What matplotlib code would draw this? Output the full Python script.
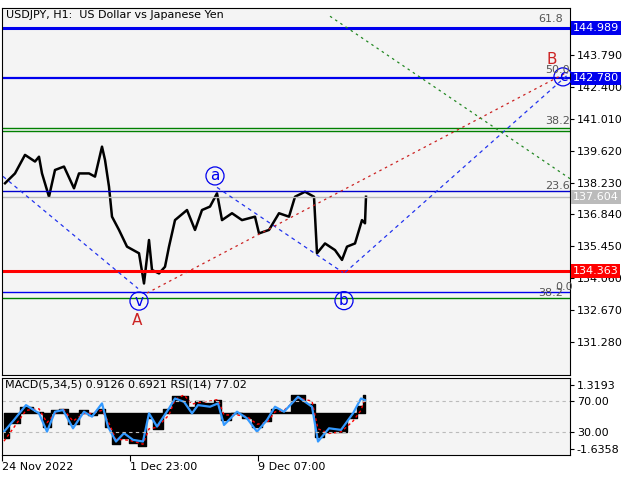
import matplotlib
matplotlib.use("Agg")
import matplotlib.pyplot as plt

# price path (bar index, price)
px_x = [3,13,23,33,37,40,47,50,53,62,72,77,87,93,100,103,107,110,117,125,137,142,147,150,157,163,167,173,185,193,200,208,215,220,230,240,253,257,267,277,287,293,303,312,315,323,333,340,345,353,360,363,364]
px_y = [138.20,138.63,139.44,139.15,139.36,138.63,137.61,138.20,138.78,138.93,137.98,138.63,138.63,138.49,139.80,139.22,138.05,136.74,136.16,135.43,135.14,133.82,135.72,134.41,134.26,134.55,135.43,136.59,137.03,136.16,137.03,137.18,137.76,136.59,136.89,136.59,136.74,136.01,136.16,136.89,136.74,137.61,137.83,137.61,135.14,135.57,135.28,134.85,135.43,135.57,136.59,136.45,137.61]
rsi_x = [2,12,24,37,45,53,61,71,82,90,100,106,114,122,131,141,147,155,167,173,182,190,196,208,216,222,235,245,255,265,273,282,296,310,316,327,339,351,359,363]
rsi_y = [30.4,45.5,64.8,54.1,30.4,56.2,58.4,34.7,56.2,49.8,67,36.9,17.5,28.3,19.7,17.5,54.1,36.9,60.5,73.4,69.1,54.1,64.8,62.7,67,39,56.2,47.6,30.4,45.5,62.7,56.2,75.6,62.7,17.5,34.7,32.6,54.1,73.4,71.3]
macd_y = [22,42,62,56,36,58,60,40,58,52,60,36,14,22,15,12,48,34,60,77,77,62,70,68,72,45,54,48,36,44,60,56,78,66,24,30,30,48,64,78]
sig_y = [18,36,58,60,42,54,60,44,54,54,58,44,20,20,18,14,34,36,52,72,78,66,68,70,72,52,52,50,40,42,56,58,74,70,34,28,30,44,58,74]
macd_base = 54.5
price_ticks = [143.790,142.400,141.010,139.620,138.230,136.840,135.450,134.060,132.670,131.280]
date_ticks = [0,128,256]
date_labels = ["24 Nov 2022","1 Dec 23:00","9 Dec 07:00"]

BG = "#f4f4f4"
fig = plt.figure(figsize=(6.4,4.8), dpi=100, facecolor="white")
ax = fig.add_axes([2/640, 105/480, 568/640, 367/480], facecolor=BG)
ax2 = fig.add_axes([2/640, 25/480, 568/640, 77/480], facecolor=BG)
for a in (ax, ax2):
    a.set_xlim(0, 568)
    for s in a.spines.values():
        s.set_linewidth(0.8)
ax.set_ylim(129.82, 145.86)
ax2.set_ylim(0, 100)

ax.plot(px_x, px_y, color="black", lw=1.8)

# horizontal levels
ax.axhline(144.989, color="#0000ee", lw=2.2)
ax.axhline(142.780, color="#0000ee", lw=1.6)
ax.axhline(140.62, color="#008000", lw=1)
ax.axhline(140.49, color="#008000", lw=1)
ax.axhline(137.86, color="#0000cc", lw=1)
ax.axhline(137.604, color="#bbbbbb", lw=1)
ax.axhline(134.363, color="#ff0000", lw=2.2)
ax.axhline(133.45, color="#0000ee", lw=1)
ax.axhline(133.18, color="#008000", lw=1)

# wave lines
ax.plot([1,136],[138.5,133.6], color="#2233ee", ls=(0,(3,3)), lw=0.9)
ax.plot([215,341],[138.02,134.30], color="#2233ee", ls=(0,(3,3)), lw=0.9)
ax.plot([343,566],[134.30,142.95], color="#2233ee", ls=(0,(3,3)), lw=0.9)
ax.plot([145,566],[133.40,143.07], color="#cc2222", ls=(0,(2,3)), lw=0.9)
ax.plot([328,568],[145.5,138.4], color="#228822", ls=(0,(2,3)), lw=0.9)

def circ(x, y, t):
    ax.text(x, y, t, color="#0000ee", fontsize=11, ha="center", va="center",
            bbox=dict(boxstyle="circle,pad=0.1", fc="none", ec="#0000ee", lw=0.9))
circ(213, 138.52, "a")
circ(137, 133.05, "v")
circ(342, 133.07, "b")
circ(561, 142.85, "c")
ax.text(135, 132.2, "A", color="#cc2222", fontsize=11, ha="center", va="center")
ax.text(550, 143.6, "B", color="#cc2222", fontsize=11, ha="center", va="center")
for x, y, t in [(549,145.4,"61.8"),(556,143.15,"50.0"),(556,140.9,"38.2"),(556,138.1,"23.6"),(562,133.65,"0.0"),(549,133.4,"38.2")]:
    ax.text(x, y, t, color="#555555", fontsize=8, ha="center", va="center")

ax.yaxis.tick_right()
ax.set_yticks(price_ticks)
ax.set_yticklabels([f"{v:.3f}" for v in price_ticks], fontsize=8)
ax.tick_params(axis="y", length=3, pad=2)
ax.set_xticks([])
for v, c in [(144.989,"#0000ee"),(142.780,"#0000ee"),(137.604,"#bbbbbb"),(134.363,"#ff0000")]:
    ax.text(571, v, f"{v:.3f}", color="white", fontsize=8, ha="left", va="center", zorder=10,
            bbox=dict(boxstyle="square,pad=0.15", fc=c, ec="none"), clip_on=False)
ax.text(4, 145.55, "USDJPY, H1:  US Dollar vs Japanese Yen", fontsize=8, va="center")

ax2.fill_between(rsi_x, macd_base, macd_y, color="black", step="mid")
ax2.plot(rsi_x, sig_y, color="red", ls=(0,(2,2)), lw=1)
ax2.plot(rsi_x, rsi_y, color="#3399ff", lw=1.6)
ax2.axhline(70, color="#bbbbbb", ls=(0,(3,3)), lw=0.8)
ax2.axhline(30, color="#bbbbbb", ls=(0,(3,3)), lw=0.8)
ax2.yaxis.tick_right()
ax2.set_yticks([91, 70, 30, 8])
ax2.set_yticklabels(["1.3193","70.00","30.00","-1.6358"], fontsize=8)
ax2.tick_params(axis="y", length=3, pad=2)
ax2.set_xticks(date_ticks)
ax2.set_xticklabels(date_labels, fontsize=8, ha="left")
ax2.tick_params(axis="x", length=4, pad=1)
ax2.text(3, 92, "MACD(5,34,5) 0.9126 0.6921 RSI(14) 77.02", fontsize=8, va="center")

fig.savefig("out.png", dpi=100, facecolor="white")
